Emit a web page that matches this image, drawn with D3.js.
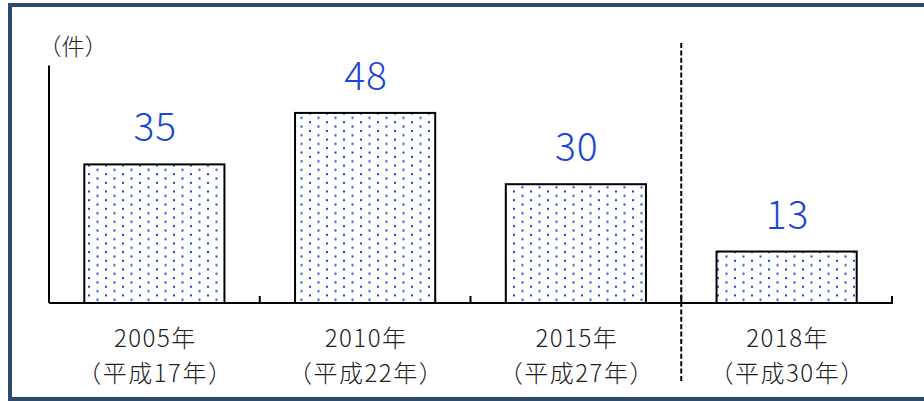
<!DOCTYPE html>
<html><head><meta charset="utf-8">
<script src="https://cdn.jsdelivr.net/npm/d3@7"></script>
<style>html,body{margin:0;padding:0;background:#fff;}svg{display:block;}</style>
</head><body>
<script>
const years = ["2005年","2010年","2015年","2018年"];
const eras = ["（平成17年）","（平成22年）","（平成27年）","（平成30年）"];
const counts = [35, 48, 30, 13];
const unitLabel = "（件）";
const yMax = 60;

const W = 924, H = 401;
const svg = d3.select("body").append("svg").attr("width", W).attr("height", H);

// frame
svg.append("rect").attr("x", 10).attr("y", 5).attr("width", 930).attr("height", 394)
  .attr("fill", "#fff").attr("stroke", "#2c4a6e").attr("stroke-width", 4);

const defs = svg.append("defs");
const pat = defs.append("pattern").attr("id", "dots").attr("patternUnits", "userSpaceOnUse")
  .attr("width", 17).attr("height", 8.66).attr("x", 88).attr("y", 0);
pat.append("rect").attr("width", 17).attr("height", 8.66).attr("fill", "#fff");
pat.append("rect").attr("x", 0).attr("y", 0).attr("width", 2).attr("height", 2).attr("fill", "#1545d4");
pat.append("rect").attr("x", 8.5).attr("y", 4.33).attr("width", 2).attr("height", 2).attr("fill", "#1545d4");

const x0 = 49, x1 = 892, yBase = 303, yTop = 65.4;
const x = d3.scaleBand().domain(years).range([x0, x1]).paddingInner(0.335).paddingOuter(0.1675);
const y = d3.scaleLinear().domain([0, yMax]).range([yBase, yTop]);

// bars
svg.selectAll("rect.bar").data(counts).enter().append("rect").attr("class", "bar")
  .attr("x", (d, i) => x(years[i]))
  .attr("y", d => y(d))
  .attr("width", x.bandwidth())
  .attr("height", d => yBase - y(d))
  .attr("fill", "url(#dots)").attr("stroke", "#000").attr("stroke-width", 2);

// y axis line
svg.append("line").attr("x1", x0).attr("x2", x0).attr("y1", y(yMax)).attr("y2", yBase)
  .attr("stroke", "#000").attr("stroke-width", 2);

// x axis with ticks at band boundaries
const step = x.step();
const bounds = d3.range(years.length + 1).map(i => x0 + i * step);
svg.append("line").attr("x1", x0).attr("x2", x1 + 1).attr("y1", yBase).attr("y2", yBase)
  .attr("stroke", "#000").attr("stroke-width", 2);
svg.selectAll("line.tick").data(bounds.slice(1)).enter().append("line").attr("class", "tick")
  .attr("x1", d => d).attr("x2", d => d).attr("y1", yBase - 7).attr("y2", yBase)
  .attr("stroke", "#000").attr("stroke-width", 2);

// dashed separator
svg.append("line").attr("x1", bounds[3]).attr("x2", bounds[3]).attr("y1", 43).attr("y2", 383)
  .attr("stroke", "#000").attr("stroke-width", 2).attr("stroke-dasharray", "5,2.4");

const font = "'Noto Sans CJK JP', 'Noto Sans', sans-serif";

// value labels
svg.selectAll("text.val").data(counts).enter().append("text").attr("class", "val")
  .attr("x", (d, i) => x(years[i]) + x.bandwidth() / 2 + 1)
  .attr("y", d => y(d) - 23)
  .attr("text-anchor", "middle").attr("font-family", font).attr("font-size", 39)
  .attr("font-weight", 300).attr("letter-spacing", 1)
  .attr("fill", "#1a47d6").text(d => d);

// category labels
svg.selectAll("text.yr").data(years).enter().append("text").attr("class", "yr")
  .attr("x", d => x(d) + x.bandwidth() / 2 + 1).attr("y", 347)
  .attr("text-anchor", "middle").attr("font-family", font).attr("font-size", 24)
  .attr("font-weight", 300).attr("letter-spacing", 1.5)
  .attr("fill", "#222").text(d => d);
svg.selectAll("text.era").data(eras).enter().append("text").attr("class", "era")
  .attr("x", (d, i) => x(years[i]) + x.bandwidth() / 2 + 1).attr("y", 382)
  .attr("text-anchor", "middle").attr("font-family", font).attr("font-size", 24)
  .attr("font-weight", 300).attr("letter-spacing", 1.5)
  .attr("fill", "#222").text(d => d);

// unit label
svg.append("text").attr("x", 73).attr("y", 55).attr("text-anchor", "middle")
  .attr("font-family", font).attr("font-size", 23).attr("font-weight", 300)
  .attr("fill", "#222").text(unitLabel);
</script>
</body></html>
